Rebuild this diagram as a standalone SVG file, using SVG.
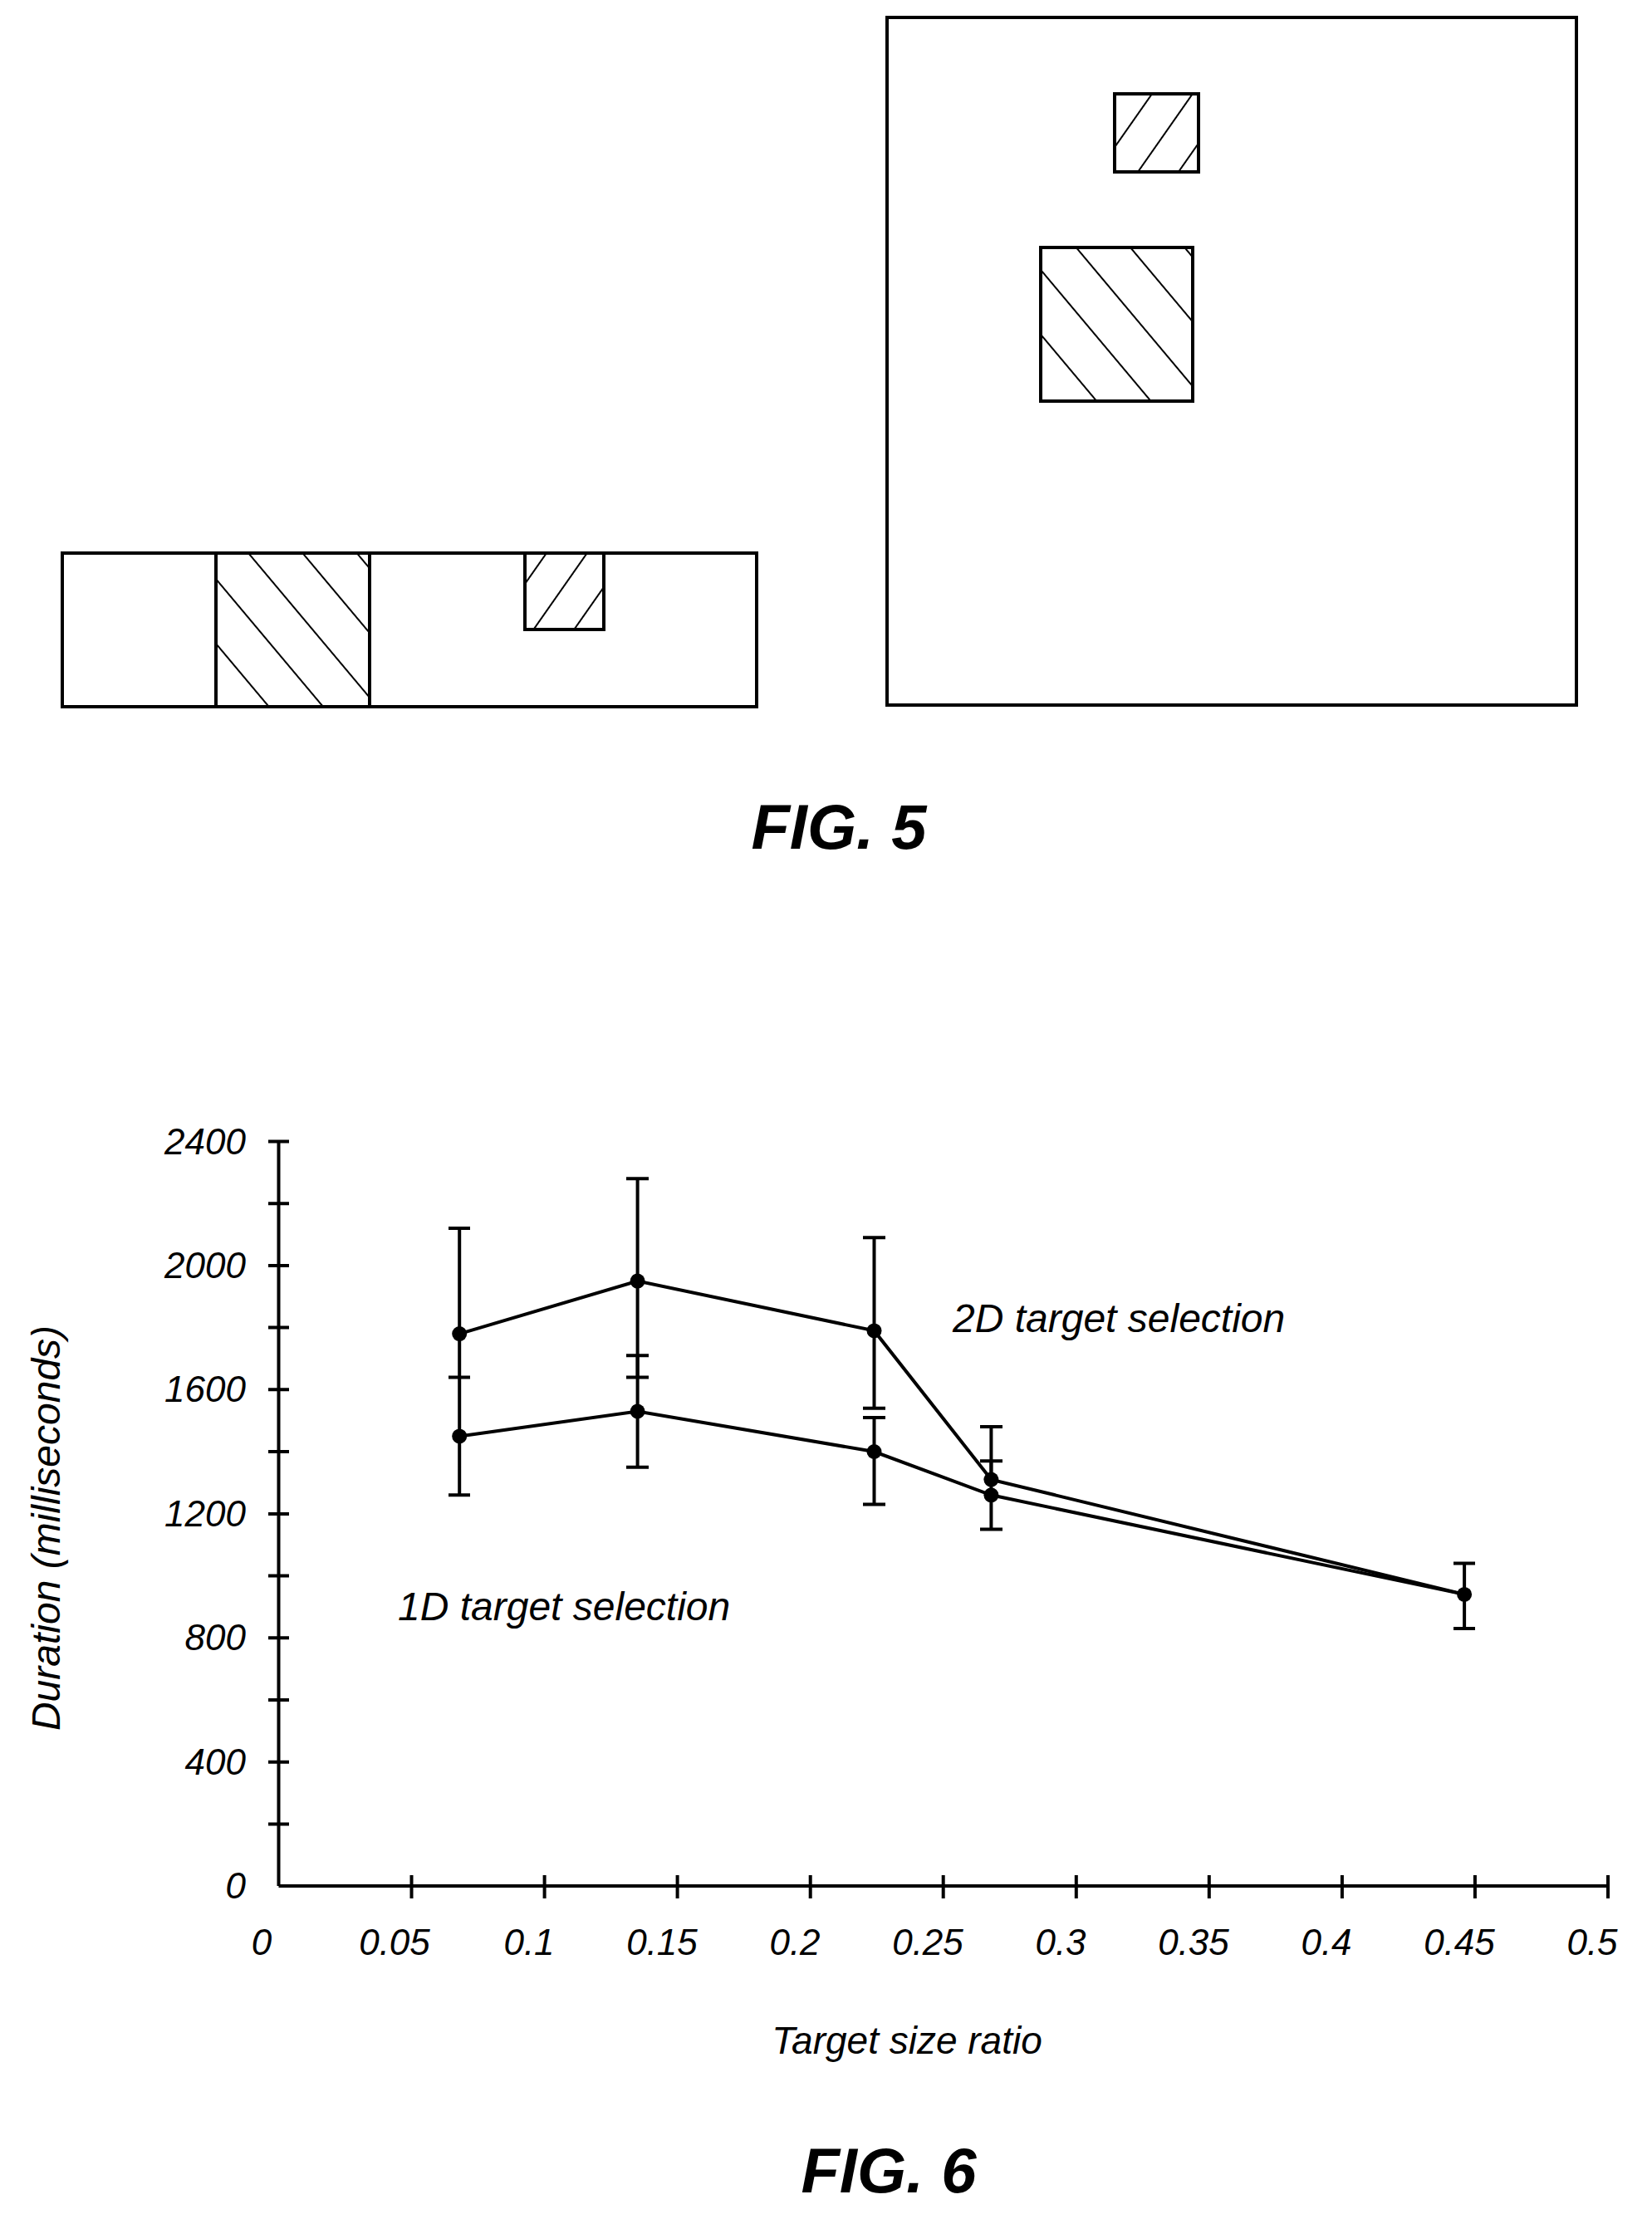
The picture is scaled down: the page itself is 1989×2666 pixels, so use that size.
<svg xmlns="http://www.w3.org/2000/svg" width="1989" height="2666" viewBox="0 0 1989 2666">
<style>
.o{fill:none;stroke:#000;stroke-width:4}
.ln{fill:none;stroke:#000;stroke-width:4}
.t{font-family:"Liberation Sans",Arial,sans-serif;font-style:italic;fill:#000}
.fig{font-family:"Liberation Sans",Arial,sans-serif;font-style:italic;font-weight:bold;font-size:76px;fill:#000}
</style>
<defs>
<pattern id="hb" patternUnits="userSpaceOnUse" width="50" height="50" patternTransform="rotate(-40)"><line x1="0" y1="0" x2="0" y2="50" stroke="#000" stroke-width="4"/></pattern>
<pattern id="hs" patternUnits="userSpaceOnUse" width="40" height="40" patternTransform="rotate(35)"><line x1="0" y1="0" x2="0" y2="40" stroke="#000" stroke-width="4"/></pattern>
</defs>
<g id="fig5">
<rect class="o" x="75" y="666" width="836" height="185"/>
<rect x="260" y="666" width="185" height="185" fill="url(#hb)" stroke="#000" stroke-width="4"/>
<rect x="632" y="666" width="95" height="92" fill="url(#hs)" stroke="#000" stroke-width="4"/>
<rect class="o" x="1068" y="21" width="830" height="828"/>
<rect x="1342" y="113" width="101" height="94" fill="url(#hs)" stroke="#000" stroke-width="4"/>
<rect x="1253" y="298" width="183" height="185" fill="url(#hb)" stroke="#000" stroke-width="4"/>
<text class="fig" x="1010" y="1022" text-anchor="middle">FIG.  5</text>
</g>
<g id="axes" class="ln">
<line x1="335.5" y1="1374" x2="335.5" y2="2271"/>
<line x1="335.5" y1="2271" x2="1936" y2="2271"/>
<path d="M323 1374.5H348M323 1449.2H348M323 1523.9H348M323 1598.6H348M323 1673.3H348M323 1748H348M323 1822.9H348M323 1897.6H348M323 1972.3H348M323 2047H348M323 2121.7H348M323 2196.4H348"/>
<path d="M495.5 2258V2286M655.6 2258V2286M815.6 2258V2286M975.7 2258V2286M1135.7 2258V2286M1295.8 2258V2286M1455.8 2258V2286M1615.9 2258V2286M1775.9 2258V2286M1936 2258V2286"/>
</g>
<g id="ylabels" class="t" font-size="44" text-anchor="end">
<text x="296" y="1390">2400</text><text x="296" y="1539">2000</text><text x="296" y="1688">1600</text><text x="296" y="1838">1200</text><text x="296" y="1987">800</text><text x="296" y="2137">400</text><text x="296" y="2286">0</text>
</g>
<g id="xlabels" class="t" font-size="44" text-anchor="middle">
<text x="315" y="2354">0</text><text x="475" y="2354">0.05</text><text x="637" y="2354">0.1</text><text x="797" y="2354">0.15</text><text x="957" y="2354">0.2</text><text x="1117" y="2354">0.25</text><text x="1277" y="2354">0.3</text><text x="1437" y="2354">0.35</text><text x="1597" y="2354">0.4</text><text x="1757" y="2354">0.45</text><text x="1917" y="2354">0.5</text>
</g>
<g id="series1d">
<polyline class="ln" points="553.2,1729.4 767.6,1699.5 1052.5,1748 1193.4,1800.3 1763.1,1919.9"/>
<path class="ln" d="M553.2 1658.4V1800.3M540 1658.4H566M540 1800.3H566M767.6 1632.2V1766.7M754 1632.2H781M754 1766.7H781M1052.5 1706.9V1811.5M1039 1706.9H1066M1039 1811.5H1066M1193.4 1759.2V1841.4M1180 1759.2H1207M1180 1841.4H1207M1763.1 1882.5V1961M1750 1882.5H1776M1750 1961H1776"/>
<g fill="#000"><circle cx="553.2" cy="1729.4" r="9"/><circle cx="767.6" cy="1699.5" r="9"/><circle cx="1052.5" cy="1748" r="9"/><circle cx="1193.4" cy="1800.3" r="9"/><circle cx="1763.1" cy="1919.9" r="9"/></g>
</g>
<g id="series2d">
<polyline class="ln" points="553.2,1606.1 767.6,1542.6 1052.5,1602.4 1193.4,1781.6 1763.1,1919.9"/>
<path class="ln" d="M553.2 1479.1V1658.4M540 1479.1H566M767.6 1419.3V1658.4M754 1419.3H781M754 1658.4H781M1052.5 1490.3V1695.7M1039 1490.3H1066M1039 1695.7H1066M1193.4 1718.1V1781.6M1180 1718.1H1207"/>
<g fill="#000"><circle cx="553.2" cy="1606.1" r="9"/><circle cx="767.6" cy="1542.6" r="9"/><circle cx="1052.5" cy="1602.4" r="9"/><circle cx="1193.4" cy="1781.6" r="9"/></g>
</g>
<g id="labels" class="t" font-size="48">
<text x="1147" y="1604">2D  target  selection</text>
<text x="479" y="1951">1D  target  selection</text>
<text x="1092" y="2473" text-anchor="middle" font-size="46">Target  size  ratio</text>
<text transform="translate(72,1840) rotate(-90)" text-anchor="middle" font-size="48">Duration  (milliseconds)</text>
</g>
<text class="fig" x="1070" y="2640" text-anchor="middle">FIG.  6</text>
</svg>
